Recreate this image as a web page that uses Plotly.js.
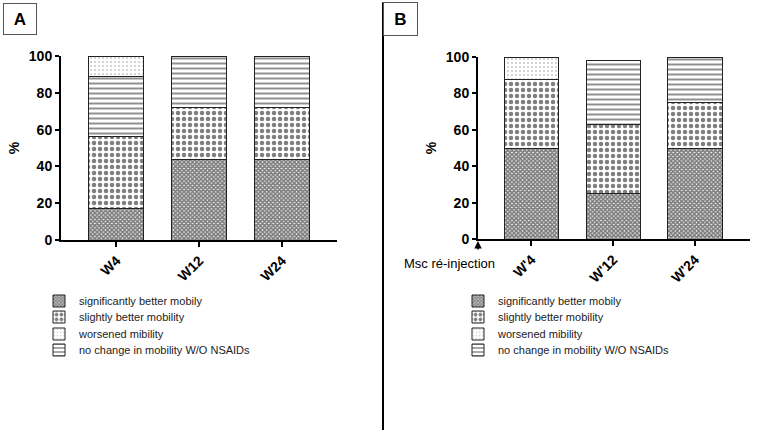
<!DOCTYPE html>
<html>
<head>
<meta charset="utf-8">
<script src="https://cdn.plot.ly/plotly-3.0.1.min.js"></script>
<style>
  html, body { margin: 0; padding: 0; background: #fff; }
  #plot { width: 765px; height: 433px; }
</style>
</head>
<body>
<div id="plot"></div>
<script>
const categoriesA = ['W4', 'W12', 'W24'];
const categoriesB = ["W'4", "W'12", "W'24"];

// panel A, percent of animals
const sigBetterA = [17, 44, 44];
const slightBetterA = [39, 28, 28];
const noChangeA = [33, 28, 28];
const worsenedA = [11, null, null];

// panel B, after MSC re-injection
const sigBetterB = [50, 25, 50];
const slightBetterB = [37.5, 38, 25];
const noChangeB = [null, 35, 25];
const worsenedB = [12.5, null, null];

const seriesNames = [
  'significantly better mobily',
  'slightly better mobility',
  'worsened mibility',
  'no change in mobility W/O NSAIDs'
];

const FONT = 'Liberation Sans, Arial, sans-serif';

const patterns = {
  sig: { shape: 'x', size: 3, solidity: 0.8, fgcolor: '#000', bgcolor: '#fff', fillmode: 'overlay' },
  slight: { shape: '.', size: 6, solidity: 0.45, fgcolor: '#000', bgcolor: '#fff', fillmode: 'overlay' },
  worse: { shape: '.', size: 4, solidity: 0.12, fgcolor: '#333', bgcolor: '#fff', fillmode: 'overlay' },
  none: { shape: '-', size: 5, solidity: 0.4, fgcolor: '#222', bgcolor: '#fff', fillmode: 'overlay' }
};

// each trace gets its own legend so the rows can sit closer than plotly's minimum spacing
function bar(x, y, name, pat, xa, ya, leg) {
  return {
    type: 'bar', x, y, name,
    xaxis: xa, yaxis: ya, legend: leg,
    width: 0.665,
    marker: { color: '#fff', pattern: pat, line: { color: '#222', width: 1 } },
    hoverinfo: 'name+y'
  };
}

// stacking follows trace order: worsened sits on top of "no change"
const data = [
  bar(categoriesA, sigBetterA, seriesNames[0], patterns.sig, 'x', 'y', 'legend'),
  bar(categoriesA, slightBetterA, seriesNames[1], patterns.slight, 'x', 'y', 'legend2'),
  bar(categoriesA, noChangeA, seriesNames[3], patterns.none, 'x', 'y', 'legend4'),
  bar(categoriesA, worsenedA, seriesNames[2], patterns.worse, 'x', 'y', 'legend3'),
  bar(categoriesB, sigBetterB, seriesNames[0], patterns.sig, 'x2', 'y2', 'legend5'),
  bar(categoriesB, slightBetterB, seriesNames[1], patterns.slight, 'x2', 'y2', 'legend6'),
  bar(categoriesB, noChangeB, seriesNames[3], patterns.none, 'x2', 'y2', 'legend8'),
  bar(categoriesB, worsenedB, seriesNames[2], patterns.worse, 'x2', 'y2', 'legend7')
];

const xax = (domain, range) => ({
  domain, range, type: 'category',
  showline: true, linecolor: '#000', linewidth: 2,
  ticks: 'outside', ticklen: 5, tickwidth: 2, tickcolor: '#000',
  tickangle: -45, showgrid: false, zeroline: false, fixedrange: true,
  tickfont: { family: FONT, size: 14, weight: 'bold', color: '#000' }
});

const yax = (domain, anchor) => ({
  domain, anchor, range: [0, 100],
  tickvals: [0, 20, 40, 60, 80, 100],
  showline: true, linecolor: '#000', linewidth: 2,
  ticks: 'outside', ticklen: 4, tickwidth: 2, tickcolor: '#000',
  showgrid: false, zeroline: false, fixedrange: true,
  tickfont: { family: FONT, size: 14, weight: 'bold', color: '#000' },
  title: { text: '%', standoff: 6, font: { family: FONT, size: 14, weight: 'bold', color: '#000' } }
});

const legendRow = (px, py) => ({
  x: px / 765, y: 1 - py / 433,
  bgcolor: 'rgba(0,0,0,0)', orientation: 'v',
  xanchor: 'left', yanchor: 'middle', itemwidth: 30,
  font: { family: FONT, size: 11, color: '#222' }
});

const rowY = [301, 317, 334, 350];

const layout = {
  width: 765, height: 433,
  paper_bgcolor: '#fff', plot_bgcolor: '#fff',
  margin: { l: 0, r: 0, t: 0, b: 0 },
  barmode: 'stack',
  showlegend: true,
  xaxis: xax([61 / 765, 337 / 765], [-0.67, 2.665]),
  yaxis: yax([193 / 433, 377 / 433], 'x'),
  xaxis2: Object.assign(xax([478 / 765, 750 / 765], [-0.654, 2.673]), { anchor: 'y2' }),
  yaxis2: yax([194 / 433, 376 / 433], 'x2'),
  legend: legendRow(39, rowY[0]),
  legend2: legendRow(39, rowY[1]),
  legend3: legendRow(39, rowY[2]),
  legend4: legendRow(39, rowY[3]),
  legend5: legendRow(458, rowY[0]),
  legend6: legendRow(458, rowY[1]),
  legend7: legendRow(458, rowY[2]),
  legend8: legendRow(458, rowY[3]),
  shapes: [
    { type: 'line', xref: 'paper', yref: 'paper', x0: 383 / 765, x1: 383 / 765, y0: 0.007, y1: 0.995,
      line: { color: '#000', width: 2 } }
  ],
  annotations: [
    { xref: 'paper', yref: 'paper', x: 20 / 765, y: 1 - 19 / 433, xanchor: 'center', yanchor: 'middle',
      text: '<b>A</b>', showarrow: false,
      width: 30, height: 28, bordercolor: '#555', borderwidth: 1,
      font: { family: FONT, size: 17, color: '#000' } },
    { xref: 'paper', yref: 'paper', x: 400 / 765, y: 1 - 19 / 433, xanchor: 'center', yanchor: 'middle',
      text: '<b>B</b>', showarrow: false,
      width: 31, height: 30, bordercolor: '#555', borderwidth: 1,
      font: { family: FONT, size: 17, color: '#000' } },
    { xref: 'paper', yref: 'paper', x: 449 / 765, y: 1 - 263 / 433, xanchor: 'center', yanchor: 'middle',
      text: 'Msc ré-injection', showarrow: false,
      font: { family: FONT, size: 13, color: '#000' } },
    { xref: 'x2', yref: 'y2', x: -0.654, y: 0, ax: 0, ay: 12, text: '', showarrow: true,
      arrowhead: 2, arrowsize: 1, arrowwidth: 1.5, arrowcolor: '#000', standoff: 2 }
  ]
};

Plotly.newPlot('plot', data, layout, { displayModeBar: false, staticPlot: true });
</script>
</body>
</html>
